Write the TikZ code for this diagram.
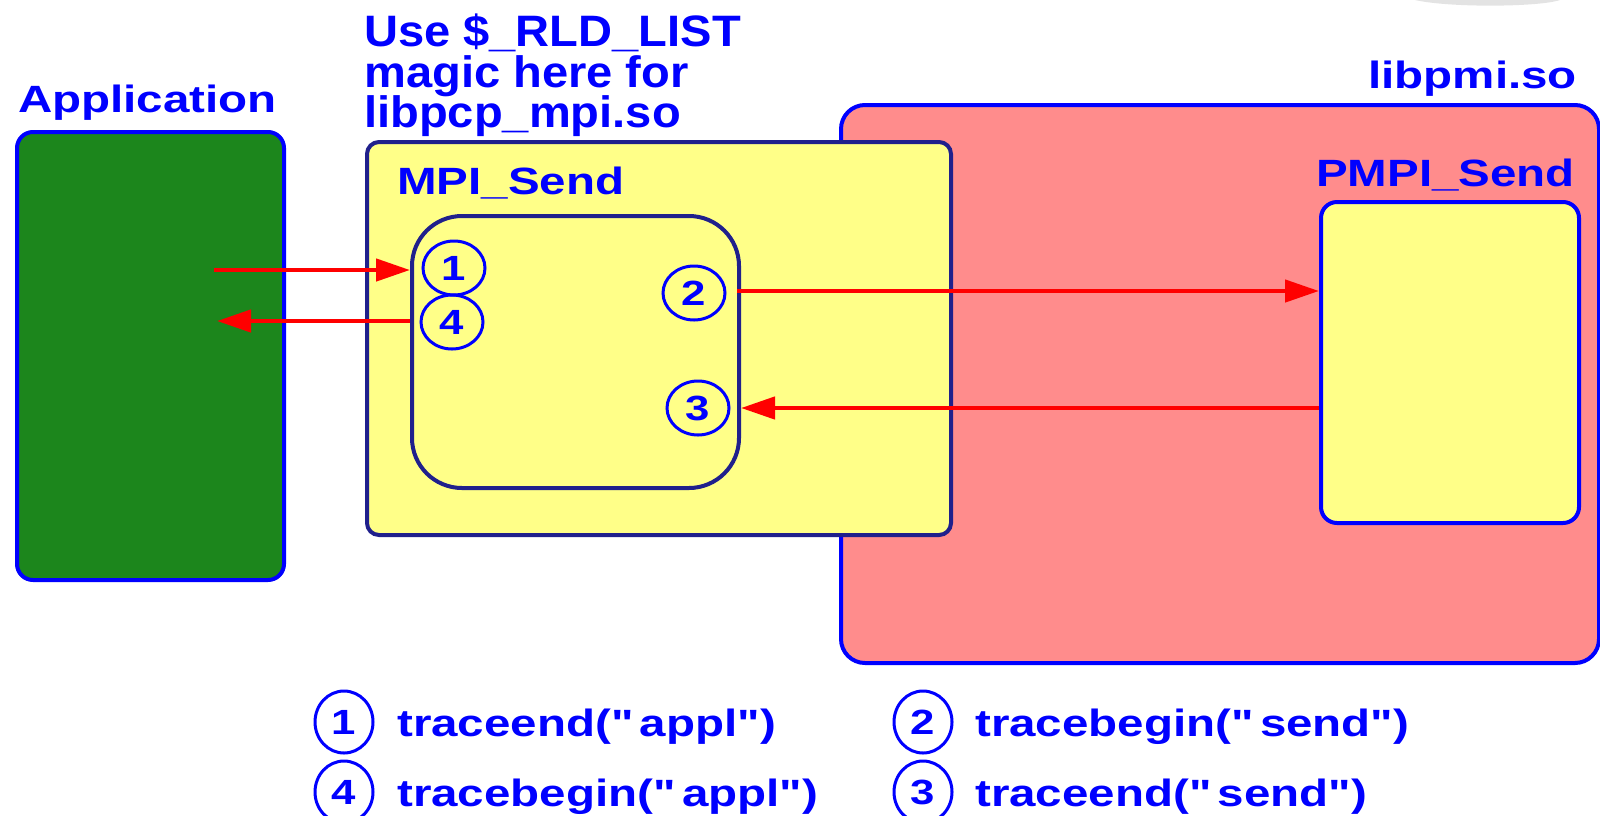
\documentclass[tikz,border=0pt]{standalone}
\usepackage{fontspec}
\newfontfamily\df{Liberation Sans}[FakeStretch=1.25]
\newfontfamily\dfu{Liberation Sans}[FakeStretch=1.07]
\usetikzlibrary{arrows.meta,shapes.geometric}
\definecolor{bl}{RGB}{0,0,255}
\definecolor{navy}{RGB}{32,32,140}
\definecolor{appgreen}{RGB}{28,134,28}
\definecolor{ylw}{RGB}{255,255,136}
\definecolor{pnk}{RGB}{255,140,140}
\definecolor{rd}{RGB}{255,0,0}
\begin{document}
\begin{tikzpicture}[x=1pt,y=-1pt,
  lbl/.style={text=bl,font=\df\bfseries\fontsize{38}{42}\selectfont,inner sep=0pt},
  ulbl/.style={text=bl,font=\dfu\bfseries\fontsize{44}{48}\selectfont,inner sep=0pt},
  box/.style={line width=4pt,inner sep=0pt,anchor=north west},
  num/.style={ellipse,draw=bl,line width=3pt,inner sep=0pt,text=bl,
    font=\df\bfseries\fontsize{35}{40}\selectfont},
  arr/.style={draw=rd,line width=4.5pt,-{Triangle[length=34pt,width=22pt]}}]
\useasboundingbox (0,0) rectangle (1600,815);
\fill[gray!22] (1415,0) -- (1560,0) .. controls (1540,7) and (1450,8) .. (1415,0);
% Application
\node[lbl,anchor=base west] (tapp) at (18,112) {Application};
\node[box,draw=bl,fill=appgreen,rounded corners=16pt,minimum width=267pt,minimum height=448pt] (app) at (15,130) {};
% libpmi
\node[lbl,anchor=base east] (tlib) at (1577,88) {libpmi.so};
\node[box,draw=bl,fill=pnk,rounded corners=24pt,minimum width=758pt,minimum height=558pt] (lib) at (839,103) {};
% MPI_Send
\node[ulbl,anchor=base west] (tuse) at (364,46) {Use \$\_RLD\_LIST};
\node[ulbl,anchor=base west] (tmagic) at (364,87) {magic here for};
\node[ulbl,anchor=base west] (tlibpcp) at (364,127) {libpcp\_mpi.so};
\node[box,draw=navy,fill=ylw,rounded corners=12pt,minimum width=584pt,minimum height=393pt] (mpi) at (365,140) {};
\node[lbl,anchor=base west] (tmpi) at (397,194) {MPI\_Send};
\node[box,draw=navy,fill=ylw,rounded corners=50pt,minimum width=327pt,minimum height=272pt] (inner) at (410,214) {};
% PMPI_Send
\node[lbl,anchor=base east] (tpmpi) at (1575,186) {PMPI\_Send};
\node[box,draw=bl,fill=ylw,rounded corners=16pt,minimum width=258pt,minimum height=321pt] (pmpi) at (1319,200) {};
% numbered circles
\node[num,minimum width=62pt,minimum height=54pt] (c1) at (454,268) {1};
\node[num,minimum width=62pt,minimum height=54pt] (c4) at (452,322) {4};
\node[num,minimum width=62pt,minimum height=54pt] (c2) at (694,293) {2};
\node[num,minimum width=62pt,minimum height=54pt] (c3) at (698,408) {3};
% arrows
\coordinate (a1s) at (214,270);
\coordinate (a4e) at (217,321);
\coordinate (a2s) at (737,291);
\coordinate (a3s) at (1319,408);
\draw[arr] (a1s) -- (a1s -| inner.west);
\draw[arr] (a4e -| inner.west) -- (a4e);
\draw[arr] (a2s) -- (a2s -| pmpi.west);
\draw[arr] (a3s) -- (a3s -| inner.east);
% legend
\node[num,minimum width=58pt,minimum height=62pt] (l1) at (344,722) {1};
\node[lbl,anchor=base west] (t1) at (397,736) {traceend("\,appl")};
\node[num,minimum width=58pt,minimum height=62pt] (l4) at (344,792) {4};
\node[lbl,anchor=base west] (t4) at (397,806) {tracebegin("\,appl")};
\node[num,minimum width=58pt,minimum height=62pt] (l2) at (923,722) {2};
\node[lbl,anchor=base west] (t2) at (975,736) {tracebegin("\,send")};
\node[num,minimum width=58pt,minimum height=62pt] (l3) at (923,792) {3};
\node[lbl,anchor=base west] (t3) at (975,806) {traceend("\,send")};
\end{tikzpicture}
\end{document}
